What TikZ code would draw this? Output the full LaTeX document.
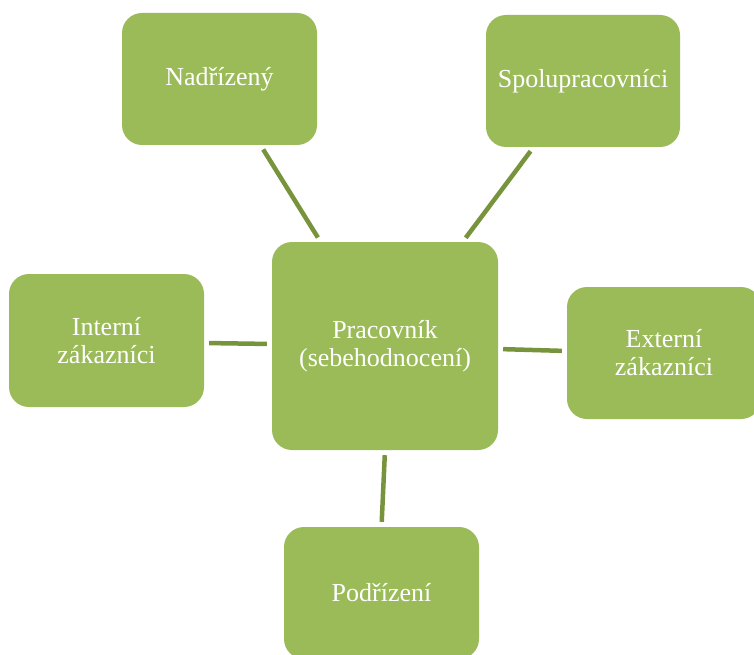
\documentclass[tikz,border=0pt]{standalone}
\usepackage{fontspec}
\setmainfont{Liberation Serif}
\definecolor{boxfill}{HTML}{9BBB59}
\definecolor{linkcol}{HTML}{77933C}
\begin{document}
\begin{tikzpicture}[x=1pt,y=-1pt,
  box/.style={rounded corners=20pt, fill=boxfill, draw=none, text=white,
    align=center, inner sep=0pt, font=\fontsize{26}{28}\selectfont},
  link/.style={draw=linkcol, line width=4.5pt, shorten >=5pt, shorten <=5pt}]
\useasboundingbox (0,0) rectangle (754,655);
\clip (0,0) rectangle (754,655);
\node[box, minimum width=195pt, minimum height=132pt] (nad) at (219.5,79) {Nadřízený};
\node[box, minimum width=194pt, minimum height=132pt] (spo) at (583,81) {Spolupracovníci};
\node[box, minimum width=195pt, minimum height=133pt] (int) at (106.5,340.5) {Interní\\zákazníci};
\node[box, minimum width=194pt, minimum height=132pt] (ext) at (664,353) {Externí\\zákazníci};
\node[box, minimum width=195pt, minimum height=132pt] (pod) at (381.5,593) {Podřízení};
\node[box, minimum width=226pt, minimum height=208pt] (cen) at (385,346) {Pracovník\\(sebehodnocení)};
\draw[link] (nad) -- (cen);
\draw[link] (spo) -- (cen);
\draw[link] ([yshift=-2.5pt]int.east) -- ([yshift=2pt]cen.west);
\draw[link] ([yshift=-3pt]cen.east) -- ([yshift=2pt]ext.west);
\draw[link] (cen.south) -- (pod.north);
\end{tikzpicture}
\end{document}
